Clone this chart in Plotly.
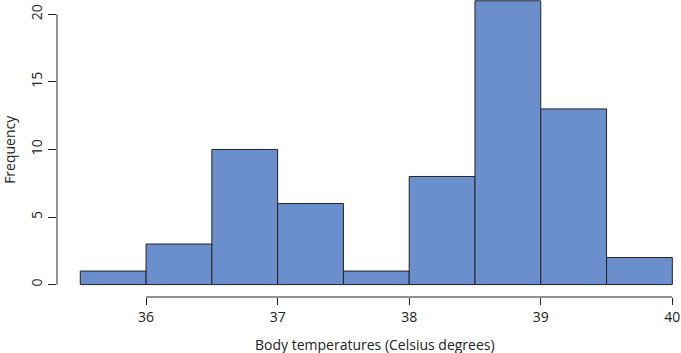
import plotly.graph_objects as go

bin_starts = [35.5, 36.0, 36.5, 37.0, 37.5, 38.0, 38.5, 39.0, 39.5]
bin_width = 0.5
counts = [1, 3, 10, 6, 1, 8, 21, 13, 2]
x_ticks = [36, 37, 38, 39, 40]
y_ticks = [0, 5, 10, 15, 20]

centers = [s + bin_width / 2 for s in bin_starts]
font_fam = "Open Sans, Noto Sans, sans-serif"
ink = "#222222"

fig = go.Figure(go.Bar(
    x=centers, y=counts, width=[bin_width] * len(counts),
    marker=dict(color="#6b8fcc", line=dict(color=ink, width=1)),
    hoverinfo="skip",
))

fig.update_layout(
    width=681, height=353,
    margin=dict(l=57, r=0, t=0, b=56),
    paper_bgcolor="white", plot_bgcolor="white",
    showlegend=False,
    font=dict(family=font_fam, size=14, color=ink),
    xaxis=dict(range=[35.323, 40.066], tickvals=x_ticks, ticktext=[str(v) for v in x_ticks],
               ticks="outside", ticklen=7, tickwidth=1, tickcolor=ink,
               showline=False, showgrid=False, zeroline=False, fixedrange=True),
    yaxis=dict(range=[-0.92, 21.06], tickvals=y_ticks, ticktext=[str(v) for v in y_ticks],
               ticks="outside", ticklen=8, tickwidth=1, tickcolor=ink, tickangle=-90,
               showline=False, showgrid=False, zeroline=False, fixedrange=True),
    shapes=[
        dict(type="line", xref="x", yref="paper", x0=x_ticks[0], x1=x_ticks[-1], y0=0, y1=0,
             line=dict(color=ink, width=1)),
        dict(type="line", xref="paper", yref="y", x0=0, x1=0, y0=y_ticks[0], y1=y_ticks[-1],
             line=dict(color=ink, width=1)),
    ],
    annotations=[
        dict(text="Body temperatures (Celsius degrees)", xref="paper", yref="paper",
             x=(375 - 57) / 624, y=-(344 - 296.7) / 296.7, showarrow=False,
             xanchor="center", yanchor="middle", font=dict(size=14, color=ink)),
        dict(text="Frequency", xref="paper", yref="paper",
             x=-(57.3 - 9) / 624, y=(296.7 - 149) / 296.7, showarrow=False, textangle=-90,
             xanchor="center", yanchor="middle", font=dict(size=14, color=ink)),
    ],
)

fig.write_html("out.html")
